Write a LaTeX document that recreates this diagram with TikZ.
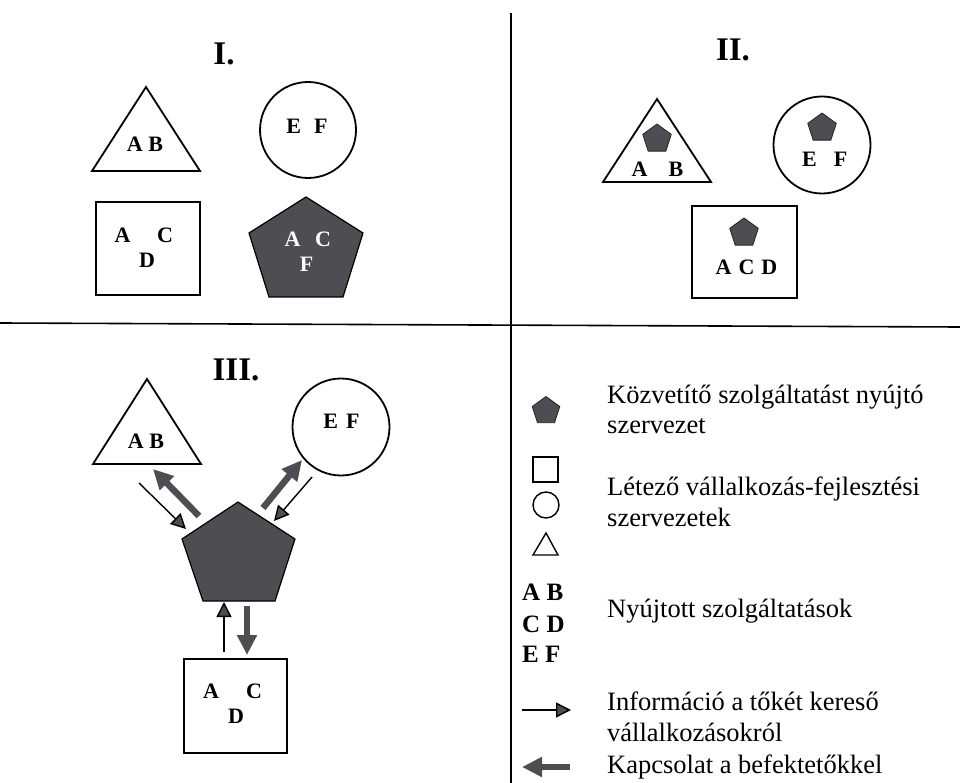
\documentclass[tikz,border=0pt]{standalone}
\usepackage{fontspec}
\setmainfont{Liberation Serif}
\usetikzlibrary{arrows.meta,shapes.geometric}
\definecolor{pent}{RGB}{78,78,82}
\begin{document}
\begin{tikzpicture}[x=1pt,y=-1pt,
  outline/.style={draw=black,line width=1.8pt,fill=white},
  inter/.style={draw=black,line width=1.2pt,fill=pent,line join=miter},
  minipent/.style={regular polygon,regular polygon sides=5,fill=pent,draw=black!85,line width=0.8pt,minimum size=30pt,inner sep=0pt},
  lbl/.style={font=\fontsize{22}{26}\selectfont\bfseries,anchor=base,inner sep=0pt},
  wlbl/.style={lbl,text=white},
  heading/.style={font=\fontsize{33}{36}\selectfont\bfseries,anchor=base,inner sep=0pt},
  legtext/.style={font=\fontsize{26.5}{30}\selectfont,anchor=base west,inner sep=0pt},
  legkey/.style={font=\fontsize{25}{30}\selectfont\bfseries,anchor=base west,inner sep=0pt},
  info/.style={draw=black,line width=1.4pt,-{Triangle[length=15pt,width=15pt,fill=pent]}},
  contact/.style={draw=pent,line width=6.5pt,-{Triangle[length=20pt,width=19pt,fill=pent]}},
  divider/.style={draw=black,line width=1.6pt},
]
\useasboundingbox (0,0) rectangle (960,783);

% quadrant dividers
\coordinate (vtop) at (511,13);
\coordinate (vbot) at (511,783);
\coordinate (hleft) at (0,323);
\coordinate (hright) at (960,327);
\draw[divider] (vtop) -- (vbot);
\draw[divider] (hleft) -- (hright);

% ---------- I. ----------
\node[heading] (h1) at (224,65) {I.};
\draw[outline] (146,87) coordinate (t1top) -- (200,171) -- (92,171) -- cycle;
\node[lbl] (t1lbl) at (145,152) {A B};
\node[outline,circle,minimum size=96pt,inner sep=0pt] (c1) at (308,130) {};
\node[lbl] (c1lbl) at (307,134) {E\hspace{13pt}F};
\node[outline,rectangle,minimum width=104pt,minimum height=93pt,inner sep=0pt] (r1) at (148,248.5) {};
\node[lbl] (r1a) at (122.5,243) {A};
\node[lbl] (r1c) at (165,243) {C};
\node[lbl] (r1d) at (147,268) {D};
\draw[inter] (306,197) coordinate (p1top) -- (363,233) -- (343,297) -- (269,297) -- (249,233) -- cycle;
\node[wlbl] (p1a) at (292.5,247) {A};
\node[wlbl] (p1c) at (323,247) {C};
\node[wlbl] (p1f) at (306.5,272) {F};

% ---------- II. ----------
\node[heading] (h2) at (733,61) {II.};
\draw[outline] (657,99) coordinate (t2top) -- (711,182) -- (603,182) -- cycle;
\node[minipent] (t2p) at (657,139) {};
\node[lbl] (t2a) at (639.5,177) {A};
\node[lbl] (t2b) at (676,177) {B};
\node[outline,circle,minimum size=97pt,inner sep=0pt] (c2) at (822,145) {};
\node[minipent] (c2p) at (822,128) {};
\node[lbl] (c2e) at (809.5,167) {E};
\node[lbl] (c2f) at (840.5,167) {F};
\node[outline,rectangle,minimum width=105pt,minimum height=92pt,inner sep=0pt] (r2) at (744.5,252) {};
\node[minipent] (r2p) at (744,233) {};
\node[lbl] (r2lbl) at (746.5,275) {A\hspace{7pt}C\hspace{7pt}D};

% ---------- III. ----------
\node[heading] (h3) at (236,380) {III.};
\draw[outline] (147,379) coordinate (t3top) -- (201,464) -- (93,464) -- cycle;
\node[lbl] (t3lbl) at (146,448) {A B};
\node[outline,circle,minimum size=97pt,inner sep=0pt] (c3) at (341,427) {};
\node[lbl] (c3lbl) at (341.5,428) {E\hspace{8pt}F};
\draw[inter] (238,502) coordinate (p3top) -- (295,539) -- (275,601) -- (203,601) -- (182,539) -- cycle;
\node[outline,rectangle,minimum width=103pt,minimum height=94pt,inner sep=0pt] (r3) at (235.5,706) {};
\node[lbl] (r3a) at (211,698) {A};
\node[lbl] (r3c) at (254,698) {C};
\node[lbl] (r3d) at (236,723) {D};

% flows between the intermediary and the organisations
\coordinate (i1s) at (139,483); \coordinate (i1e) at (186,529);
\coordinate (k1s) at (199,516); \coordinate (k1e) at (153,469);
\coordinate (k2s) at (263,508); \coordinate (k2e) at (302,460);
\coordinate (i2s) at (312,477); \coordinate (i2e) at (274,521);
\coordinate (i3s) at (224,652); \coordinate (i3e) at (224,602);
\coordinate (k3s) at (247,606); \coordinate (k3e) at (247,655);
\draw[info] (i1s) -- (i1e);
\draw[contact] (k1s) -- (k1e);
\draw[contact] (k2s) -- (k2e);
\draw[info] (i2s) -- (i2e);
\draw[info] (i3s) -- (i3e);
\draw[contact] (k3s) -- (k3e);

% ---------- legend ----------
\node[minipent,minimum size=29pt] (lp) at (546,411) {};
\node[legtext] (l1a) at (607,403) {Közvetítő szolgáltatást nyújtó};
\node[legtext] (l1b) at (607,433) {szervezet};

\node[draw=black,line width=1.4pt,minimum size=25pt,inner sep=0pt] (lsq) at (545.5,469.5) {};
\node[draw=black,line width=1.4pt,circle,minimum size=26pt,inner sep=0pt] (lci) at (546,505) {};
\draw[draw=black,line width=1.4pt] (546,533) coordinate (ltri) -- (558,555) -- (533,555) -- cycle;
\node[legtext] (l2a) at (607,495) {Létező vállalkozás-fejlesztési};
\node[legtext] (l2b) at (607,526) {szervezetek};

\node[legkey] (lab) at (522,600) {A B};
\node[legkey] (lcd) at (522,632) {C D};
\node[legkey] (lef) at (522,662) {E F};
\node[legtext] (l3) at (607,617) {Nyújtott szolgáltatások};

\coordinate (la1) at (522,710); \coordinate (la2) at (571,710);
\draw[info] (la1) -- (la2);
\node[legtext] (l4a) at (607,710) {Információ a tőkét kereső};
\node[legtext] (l4b) at (607,741) {vállalkozásokról};

\coordinate (lb1) at (570,767); \coordinate (lb2) at (522,767);
\draw[contact] (lb1) -- (lb2);
\node[legtext] (l5) at (607,773) {Kapcsolat a befektetőkkel};
\end{tikzpicture}
\end{document}
